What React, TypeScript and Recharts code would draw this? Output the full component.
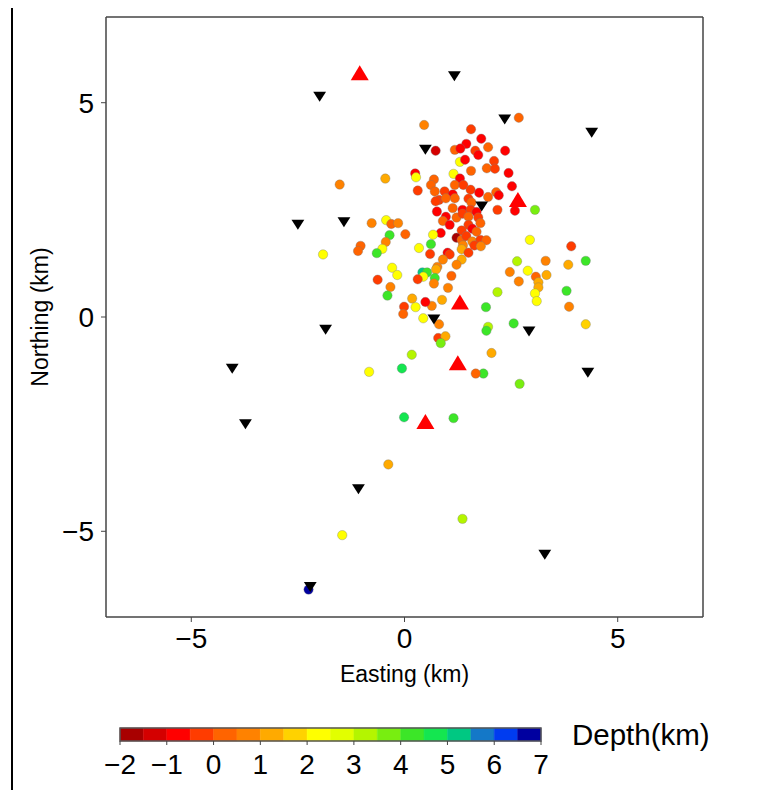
import React from 'react';
import { ScatterChart, Scatter, XAxis, YAxis, ReferenceArea } from 'recharts';

const FONT = '"Liberation Sans", Arial, Helvetica, sans-serif';

// Axis ticks
const axisTicks = [-5, 0, 5];
const depthTicks = [-2, -1, 0, 1, 2, 3, 4, 5, 6, 7];
const depthMin = -2;
const depthStep = 0.5;

// Depth colour palette (0.5 km bins from -2 to 7 km)
const depthPalette = [
  '#a80000', '#d40000', '#ff0000', '#ff3c00', '#ff6400', '#ff8200',
  '#ffaa00', '#ffd200', '#ffff00', '#e2ff00', '#b4f500', '#78ee10',
  '#3ce628', '#14e650', '#00c882', '#1478c8', '#003cf0', '#0000a0',
];

// Earthquakes: [easting km, northing km, depth km]
const earthquakes: [number, number, number][] = [
  [2.68, 4.65, 0.3], [0.46, 4.48, 0.6], [1.56, 4.38, -0.3], [1.80, 4.16, -0.6],
  [1.45, 4.04, -0.8], [1.96, 3.96, 0.2], [0.73, 3.88, -1.2], [1.18, 3.90, 0.2],
  [1.31, 3.93, -0.9], [1.66, 3.88, -0.3], [2.36, 3.88, -1.0], [1.73, 3.78, -0.7],
  [1.30, 3.62, 2.2], [1.42, 3.67, -0.8], [2.10, 3.64, -0.2], [1.56, 3.41, 0.0],
  [1.93, 3.47, 0.3], [2.12, 3.46, -0.1], [0.25, 3.35, -0.9], [0.27, 3.26, 2.2],
  [1.15, 3.34, 2.3], [2.44, 3.36, -1.0], [1.30, 3.23, -1.0], [-0.45, 3.23, 1.2],
  [-1.52, 3.09, 0.7], [0.69, 3.21, 0.4], [0.62, 3.08, 0.0], [1.18, 3.08, 0.2],
  [1.38, 3.08, -0.3], [2.52, 3.05, -1.0], [0.31, 2.95, -0.4], [0.71, 2.93, 0.2],
  [0.94, 2.93, -0.2], [1.13, 2.86, -0.6], [1.55, 2.97, -0.2], [1.75, 2.90, -0.8],
  [2.15, 2.91, 0.3], [2.21, 2.84, -0.7], [1.96, 2.80, 0.3], [0.81, 2.73, -0.1],
  [0.97, 2.77, 0.3], [1.18, 2.77, 0.4], [1.50, 2.76, -0.2], [1.57, 2.67, 0.3],
  [0.73, 2.70, -0.3], [1.13, 2.54, 0.3], [1.36, 2.50, -0.8], [1.55, 2.50, -0.2],
  [1.69, 2.45, -0.6], [2.18, 2.50, -0.4], [2.59, 2.48, -1.0], [3.06, 2.50, 3.6],
  [0.76, 2.46, -0.9], [0.97, 2.34, -0.8], [1.22, 2.32, 0.2], [1.36, 2.41, -0.2],
  [1.50, 2.34, 0.3], [1.73, 2.32, -0.1], [0.90, 2.24, 0.4], [1.06, 2.15, -0.8],
  [1.50, 2.15, -0.2], [1.78, 2.19, 0.3], [1.34, 2.02, -0.2], [1.59, 2.06, -0.6],
  [1.69, 1.99, 0.2], [0.85, 1.96, -0.8], [0.67, 1.92, 2.3], [1.22, 1.85, -1.6],
  [1.34, 1.80, 0.3], [1.45, 1.89, -0.2], [1.59, 1.76, 0.5], [1.78, 1.80, -0.2],
  [1.92, 1.79, 0.2], [1.37, 1.67, 0.5], [1.64, 1.67, -0.1], [1.79, 1.65, 0.6],
  [1.34, 1.58, 1.2], [1.50, 1.50, -0.3], [1.01, 1.50, -0.7], [1.06, 1.46, -0.3],
  [0.60, 1.47, -0.1], [0.34, 1.61, 2.2], [0.62, 1.70, 4.2], [0.90, 1.34, 0.5],
  [1.34, 1.34, 1.2], [1.22, 1.22, 0.5], [0.77, 1.17, 0.7], [-0.77, 2.19, 0.5],
  [-0.43, 2.26, 2.3], [-0.31, 2.17, 0.4], [-0.15, 2.19, 0.6], [0.02, 1.93, 0.4],
  [-0.35, 1.91, 4.2], [-0.44, 1.75, 0.6], [-0.52, 1.59, 2.3], [-0.65, 1.49, 4.1],
  [-1.03, 1.66, 0.4], [-1.09, 1.54, 0.3], [-1.91, 1.46, 2.4], [2.94, 1.80, 2.3],
  [3.91, 1.65, -0.3], [2.64, 1.30, 3.1], [3.31, 1.31, 0.6], [3.84, 1.22, 1.2],
  [4.25, 1.31, 4.2], [2.47, 1.05, 0.7], [2.89, 1.08, 2.3], [3.08, 0.94, 0.1],
  [3.33, 0.98, 1.2], [2.68, 0.83, 0.7], [3.14, 0.81, 1.2], [3.14, 0.69, 1.4],
  [3.06, 0.55, 2.2], [3.10, 0.37, 2.3], [2.18, 0.58, 3.1], [3.80, 0.61, 4.2],
  [3.86, 0.24, 0.7], [1.91, 0.23, 4.2], [4.25, -0.17, 1.7], [2.56, -0.15, 4.2],
  [1.96, -0.23, 3.3], [1.92, -0.32, 4.0], [2.04, -0.84, 1.3], [1.85, -1.32, 4.2],
  [1.67, -1.32, 0.1], [2.70, -1.56, 3.6], [1.15, -2.36, 4.3], [-0.01, -2.34, 4.8],
  [-0.06, -1.20, 4.5], [0.17, -0.88, 3.2], [-0.83, -1.28, 2.4], [-0.38, -3.44, 1.3],
  [1.36, -4.71, 3.1], [-1.46, -5.09, 2.4], [-0.29, 1.15, 2.2], [-0.17, 0.98, 2.3],
  [-0.63, 0.87, -0.3], [-0.33, 0.70, 0.7], [-0.40, 0.50, 4.1], [0.42, 1.04, 5.0],
  [0.53, 1.04, 4.3], [0.44, 0.94, 2.3], [0.31, 0.88, -0.3], [0.74, 1.11, 1.2],
  [0.71, 0.91, 4.0], [0.69, 0.78, 0.8], [1.10, 0.96, 0.4], [1.02, 0.68, 0.7],
  [0.88, 0.40, 1.3], [0.64, 0.26, 0.7], [0.49, 0.35, -0.8], [0.18, 0.43, 1.3],
  [-0.01, 0.24, -0.2], [-0.03, 0.07, 0.3], [0.26, 0.23, 2.3], [0.44, -0.03, 2.4],
  [0.81, -0.17, 0.7], [0.79, -0.49, -0.2], [0.96, -0.45, 1.2], [0.85, -0.61, 3.8],
  [-2.25, -6.36, 6.6],
];

// Seismic stations (black inverted triangles): [easting, northing]
const stations: [number, number][] = [
  [-1.99, 5.14], [1.17, 5.62], [2.35, 4.61], [4.39, 4.30], [0.49, 3.90],
  [1.81, 2.58], [-2.50, 2.15], [-1.42, 2.21], [-1.85, -0.30], [0.69, -0.06],
  [2.92, -0.34], [-4.04, -1.21], [4.30, -1.30], [-3.73, -2.50], [-1.08, -4.02],
  [3.29, -5.55], [-2.21, -6.30],
];

// Wells (red triangles): [easting, northing]
const wells: [number, number][] = [
  [-1.05, 5.70], [2.66, 2.74], [1.30, 0.35], [1.25, -1.07], [0.49, -2.44],
];

const quakeData = earthquakes.map(([x, y, d]) => ({ x, y, d }));
const stationData = stations.map(([x, y]) => ({ x, y }));
const wellData = wells.map(([x, y]) => ({ x, y }));
const binData = depthPalette.map((color, i) => ({
  from: depthMin + i * depthStep,
  to: depthMin + (i + 1) * depthStep,
  color,
}));
const binCenters = binData.map((b) => ({ x: (b.from + b.to) / 2, y: 0.5 }));

const depthColor = (d: number) => {
  const i = Math.max(0, Math.min(depthPalette.length - 1, Math.floor((d - depthMin) / depthStep)));
  return depthPalette[i];
};

const fmt = (v: number) => (v < 0 ? '\u2212' + Math.abs(v) : String(v));

const QuakeDot = (p: any) => (
  <circle cx={p.cx} cy={p.cy} r={4.7} fill={depthColor(p.payload.d)}
    stroke="rgba(120,120,120,0.45)" strokeWidth={0.8} />
);

const DownTri = (p: any) => {
  const w = 6.4, h = 10;
  const { cx, cy } = p;
  return <path d={`M${cx - w},${cy - h / 2}L${cx + w},${cy - h / 2}L${cx},${cy + h / 2}Z`} fill="#000" />;
};

const UpTri = (p: any) => {
  const w = 9, h = 15;
  const { cx, cy } = p;
  return <path d={`M${cx - w},${cy + h / 2}L${cx + w},${cy + h / 2}L${cx},${cy - h / 2}Z`} fill="#ff0000" />;
};

const Nothing = () => <g />;

const tickStyle = { fill: '#000', fontSize: 28, fontFamily: FONT };
const AXIS = '#444';
const axisLine = { stroke: AXIS, strokeWidth: 1.5 };

export default function App() {
  return (
    <div style={{ position: 'relative', width: 760, height: 782, fontFamily: FONT }}>
      <div style={{ position: 'absolute', left: 3, top: -8, width: 2, height: 798, background: '#000' }} />
      <div style={{ position: 'absolute', left: 0, top: 0 }}>
        <ScatterChart width={760} height={690} margin={{ top: 4, right: 55, bottom: 11, left: 18 }}>
          <XAxis xAxisId="b" type="number" dataKey="x" domain={[-7, 7]} ticks={axisTicks}
            orientation="bottom" height={70} tickSize={5} tickMargin={6} stroke={AXIS}
            axisLine={axisLine} tick={tickStyle} tickFormatter={fmt} allowDataOverflow
            label={{ value: 'Easting (km)', position: 'insideBottom', offset: 5, fill: '#000', fontSize: 23, fontFamily: FONT }} />
          <XAxis xAxisId="t" type="number" dataKey="x" domain={[-7, 7]} ticks={axisTicks}
            orientation="top" height={5} tickSize={5} tick={false} stroke={AXIS} axisLine={axisLine} allowDataOverflow />
          <YAxis yAxisId="l" type="number" dataKey="y" domain={[-7, 7]} ticks={axisTicks}
            width={80} tickSize={5} tickMargin={7} stroke={AXIS} axisLine={axisLine} tick={tickStyle}
            tickFormatter={fmt} allowDataOverflow
            label={{ value: 'Northing (km)', angle: -90, position: 'insideLeft', offset: 14,
              fill: '#000', fontSize: 23, fontFamily: FONT, style: { textAnchor: 'middle' } }} />
          <YAxis yAxisId="r" type="number" dataKey="y" domain={[-7, 7]} ticks={axisTicks}
            orientation="right" width={10} tickSize={5} tick={false} stroke={AXIS} axisLine={axisLine} allowDataOverflow />
          <Scatter data={quakeData} xAxisId="b" yAxisId="l" shape={QuakeDot} isAnimationActive={false} />
          <Scatter data={stationData} xAxisId="t" yAxisId="r" shape={DownTri} isAnimationActive={false} />
          <Scatter data={wellData} xAxisId="b" yAxisId="l" shape={UpTri} isAnimationActive={false} />
        </ScatterChart>
      </div>
      <div style={{ position: 'absolute', left: 92, top: 712 }}>
        <ScatterChart width={461} height={74} margin={{ top: 8, right: 20, bottom: 0, left: 20 }}>
          <XAxis xAxisId="n" type="number" dataKey="x" domain={[-2, 7]} ticks={depthTicks} height={53}
            tickSize={4} tickMargin={9} stroke="#444" axisLine={false} tick={tickStyle}
            tickFormatter={fmt} allowDataOverflow />
          <YAxis yAxisId="y" type="number" dataKey="y" domain={[0, 1]} hide allowDataOverflow />
          {binData.map((b) => (
            <ReferenceArea key={b.from} xAxisId="n" yAxisId="y" x1={b.from} x2={b.to} y1={0} y2={1}
              fill={b.color} fillOpacity={1} stroke={b.color} strokeWidth={0.5} ifOverflow="visible" />
          ))}
          <ReferenceArea xAxisId="n" yAxisId="y" x1={-2} x2={7} y1={0} y2={1}
            fill="none" stroke="#555" strokeWidth={1.5} ifOverflow="visible" />
          <Scatter data={binCenters} xAxisId="n" yAxisId="y" shape={Nothing} isAnimationActive={false} />
        </ScatterChart>
      </div>
      <svg style={{ position: 'absolute', left: 550, top: 710 }} width={210} height={50}>
        <text x={14} y={27} fontSize={29.5} fontFamily={FONT} fill="#000">Depth(km)</text>
      </svg>
    </div>
  );
}
